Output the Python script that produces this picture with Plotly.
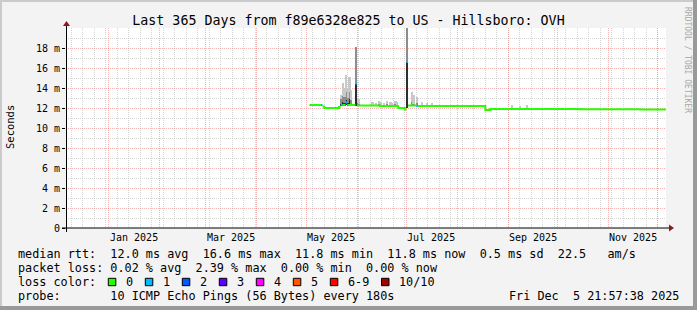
import plotly.graph_objects as go
import pandas as pd

# ---------------- data ----------------
range_start = "2024-12-05 21:57:38"
range_end = "2025-12-05 21:57:38"
data_end = "2025-12-05 21:00:00"

month_grid = ["2025-01-01", "2025-02-01", "2025-03-01", "2025-04-01", "2025-05-01", "2025-06-01",
              "2025-07-01", "2025-08-01", "2025-09-01", "2025-10-01", "2025-11-01", "2025-12-01"]
month_label_at = ["2025-01-16", "2025-03-16", "2025-05-16", "2025-07-16", "2025-09-16", "2025-11-16"]
month_labels = ["Jan 2025", "Mar 2025", "May 2025", "Jul 2025", "Sep 2025", "Nov 2025"]

y_major_ms = [0, 2, 4, 6, 8, 10, 12, 14, 16, 18]
y_major_text = ["0", "2 m", "4 m", "6 m", "8 m", "10 m", "12 m", "14 m", "16 m", "18 m"]
y_minor_ms = [1, 3, 5, 7, 9, 11, 13, 15, 17, 19]

# median rtt (ms) as step segments, each lasting until the next start; loss = lost pings of 10
med_start = ["2025-05-03", "2025-05-10", "2025-05-11", "2025-05-12", "2025-05-21", "2025-05-22",
             "2025-05-23", "2025-05-25", "2025-05-26", "2025-05-31", "2025-06-01", "2025-06-15",
             "2025-06-26", "2025-06-30", "2025-07-01", "2025-07-02", "2025-07-07", "2025-07-08",
             "2025-08-18", "2025-08-21", "2025-09-05", "2025-10-15", "2025-11-20"]
med_ms = [12.3, 12.3, 12.15, 12.0, 12.1, 12.3,
          12.3, 12.55, 12.3, 14.45, 12.25, 12.2,
          12.0, 11.85, 16.6, 12.25, 12.2, 12.2,
          11.8, 11.9, 11.9, 11.88, 11.85]
med_loss = [0, 1, 0, 0, 0, 1,
            0, 1, 0, 1, 0, 0,
            0, 0, 1, 0, 1, 0,
            0, 0, 0, 0, 0]

# smoke (ping spread, ms) per day
smoke_day = ["2025-05-22", "2025-05-23", "2025-05-24", "2025-05-25", "2025-05-26", "2025-05-27",
             "2025-05-28", "2025-05-31", "2025-06-01", "2025-06-02", "2025-06-10", "2025-06-12",
             "2025-06-14", "2025-06-15", "2025-06-17", "2025-06-19", "2025-06-21", "2025-06-22",
             "2025-06-24", "2025-06-25", "2025-07-01", "2025-07-04", "2025-07-05", "2025-07-07",
             "2025-07-10", "2025-07-13", "2025-07-16", "2025-09-03", "2025-09-08", "2025-09-12"]
smoke_min = [12.2, 12.2, 12.2, 12.3, 12.2, 12.2,
             12.2, 12.2, 12.2, 12.2, 12.2, 12.2,
             12.2, 12.2, 12.2, 12.2, 12.2, 12.2,
             12.2, 12.2, 12.0, 12.2, 12.2, 12.2,
             12.2, 12.2, 12.2, 11.9, 11.9, 11.9]
smoke_dark = [12.4, 12.6, 12.5, 12.8, 12.5, 12.9,
              12.4, 14.45, 12.2, 12.2, 12.2, 12.2,
              12.2, 12.2, 12.2, 12.2, 12.2, 12.2,
              12.2, 12.2, 16.6, 12.2, 12.2, 12.2,
              12.2, 12.2, 12.2, 11.9, 11.9, 11.9]
smoke_mid = [12.9, 13.2, 13.1, 13.6, 13.0, 13.6,
             12.8, 18.1, 12.5, 12.4, 12.3, 12.3,
             12.4, 12.3, 12.3, 12.4, 12.3, 12.3,
             12.4, 12.3, 20.5, 12.6, 12.4, 12.5,
             12.3, 12.3, 12.3, 12.0, 12.0, 12.0]
smoke_max = [13.3, 14.5, 14.0, 15.3, 14.0, 15.1,
             13.8, 18.1, 13.0, 12.9, 12.6, 12.5,
             12.7, 12.6, 12.5, 12.7, 12.6, 12.5,
             12.7, 12.6, 20.5, 13.6, 13.3, 13.1,
             12.6, 12.5, 12.5, 12.3, 12.2, 12.3]

loss_colors = ["#26ff00", "#00b8ff", "#0059ff", "#5e00ff", "#ff00ff", "#ff5500", "#ff0000", "#a10000"]
loss_names = ["0", "1", "2", "3", "4", "5", "6-9", "10/10"]

title = "Last 365 Days from f89e6328e825 to US - Hillsboro: OVH"
row_rtt = "median rtt:  12.0 ms avg  16.6 ms max  11.8 ms min  11.8 ms now  0.5 ms sd  22.5   am/s"
row_loss = "packet loss: 0.02 % avg  2.39 % max  0.00 % min  0.00 % now"
row_probe = "probe:       10 ICMP Echo Pings (56 Bytes) every 180s"
stamp = "Fri Dec  5 21:57:38 2025"

# ---------------- figure ----------------
W, H = 697, 310
PL, PR, PT, PB = 66, 666, 28, 228
MONO = "DejaVu Sans Mono"


def X(p):
    return (p - PL) / (PR - PL)


def Y(p):
    return (PB - p) / (PB - PT)


fig = go.Figure()

# smoke bars
day = pd.to_datetime(smoke_day) + pd.Timedelta(hours=12)
dayw = 86400000
bands = [
    (smoke_min, smoke_dark, "#2e2e2e"),
    (smoke_dark, smoke_mid, "#8c8c8c"),
    (smoke_mid, smoke_max, "#c8c8c8"),
]
for lo, hi, col in bands:
    fig.add_trace(go.Bar(x=day, y=[h - l for l, h in zip(lo, hi)], base=lo, width=dayw,
                         marker=dict(color=col, line=dict(width=0)), hoverinfo="skip",
                         showlegend=False))

# median lines coloured by loss
ends = med_start[1:] + [data_end]
for cls in sorted(set(med_loss)):
    xs, ys = [], []
    prev_end = None
    for s, e, v, l in zip(med_start, ends, med_ms, med_loss):
        if l != cls:
            continue
        if prev_end is not None and prev_end != s:
            xs.append(prev_end)
            ys.append(ys[-1])
            xs.append(None)
            ys.append(None)
        xs.append(s)
        ys.append(v)
        prev_end = e
    xs.append(prev_end)
    ys.append(ys[-1])
    fig.add_trace(go.Scatter(x=xs, y=ys, mode="lines", line=dict(color=loss_colors[cls], width=2, shape="hv"),
                             connectgaps=False, hoverinfo="skip", showlegend=False))

RED = "rgba(235,120,120,0.55)"
GRAY = "rgba(185,185,185,0.6)"

fig.update_layout(
    width=W, height=H,
    margin=dict(l=PL, r=W - PR, t=PT, b=H - PB),
    paper_bgcolor="#f3f3f3", plot_bgcolor="#ffffff",
    barmode="overlay", bargap=0,
    showlegend=False,
    font=dict(family=MONO, color="#000000", size=10),
    title=dict(text=title, x=0.5, xref="container", xanchor="center", y=1 - 20 / H, yref="container",
               yanchor="middle", font=dict(family=MONO, size=13.3, color="#000000")),
    xaxis=dict(type="date", range=[range_start, range_end], tickmode="array", tickvals=month_grid,
               ticktext=[""] * len(month_grid), showgrid=True, gridcolor=RED, gridwidth=1, griddash="1px,1px",
               ticks="", zeroline=False, showline=False,
               minor=dict(dtick=7 * 86400000, tick0="2024-12-09", showgrid=True, gridcolor=GRAY,
                          griddash="1px,1px", gridwidth=1, ticks="")),
    yaxis=dict(range=[0, 20], tickmode="array", tickvals=y_major_ms, ticktext=y_major_text,
               showgrid=True, gridcolor=RED, gridwidth=1, griddash="1px,1px", zeroline=False,
               ticks="outside", ticklen=3, tickcolor="#000000", showline=False,
               tickfont=dict(family=MONO, size=10, color="#000000"),
               minor=dict(tickmode="array", tickvals=y_minor_ms, showgrid=True, gridcolor=GRAY,
                          griddash="1px,1px", gridwidth=1)),
)

shapes = []
# frame shading
shapes.append(dict(type="rect", xref="paper", yref="paper", x0=X(0), x1=X(2), y0=Y(H), y1=Y(0),
                   fillcolor="#cbcbcb", line=dict(width=0), layer="below"))
shapes.append(dict(type="rect", xref="paper", yref="paper", x0=X(0), x1=X(W), y0=Y(2), y1=Y(0),
                   fillcolor="#cbcbcb", line=dict(width=0), layer="below"))
shapes.append(dict(type="rect", xref="paper", yref="paper", x0=X(W - 4), x1=X(W), y0=Y(H), y1=Y(0),
                   fillcolor="#999999", line=dict(width=0), layer="below"))
shapes.append(dict(type="rect", xref="paper", yref="paper", x0=X(0), x1=X(W), y0=Y(H), y1=Y(H - 4),
                   fillcolor="#999999", line=dict(width=0), layer="below"))
# axes with arrows
shapes.append(dict(type="line", xref="paper", yref="paper", x0=X(62), x1=X(670), y0=Y(228), y1=Y(228),
                   line=dict(color="#000000", width=1)))
shapes.append(dict(type="line", xref="paper", yref="paper", x0=X(66.5), x1=X(66.5), y0=Y(232), y1=Y(25),
                   line=dict(color="#000000", width=1)))
shapes.append(dict(type="path", xref="paper", yref="paper",
                   path=f"M {X(669)} {Y(224.5)} L {X(674)} {Y(228)} L {X(669)} {Y(231.5)} Z",
                   fillcolor="#8b1a1a", line=dict(width=0)))
shapes.append(dict(type="path", xref="paper", yref="paper",
                   path=f"M {X(63)} {Y(26)} L {X(66.5)} {Y(21)} L {X(70)} {Y(26)} Z",
                   fillcolor="#8b1a1a", line=dict(width=0)))

ann = []
for d, t in zip(month_label_at, month_labels):
    ann.append(dict(x=d, y=Y(237), xref="x", yref="paper", text=t, showarrow=False,
                    xanchor="center", yanchor="middle", font=dict(family=MONO, size=10, color="#000000")))
ann.append(dict(x=X(10), y=Y(127), xref="paper", yref="paper", text="Seconds", textangle=-90, showarrow=False,
                xanchor="center", yanchor="middle", font=dict(family=MONO, size=10.5, color="#000000")))
ann.append(dict(x=X(688), y=Y(5), xref="paper", yref="paper", text="RRDTOOL / TOBI OETIKER", textangle=90,
                showarrow=False, xanchor="center", yanchor="top", font=dict(family=MONO, size=8, color="#a8a8a8")))

LF = 11.8
for text, yy in [(row_rtt, 253.5), (row_loss, 267.8), (row_probe, 296.3)]:
    ann.append(dict(x=X(16), y=Y(yy), xref="paper", yref="paper", text=text.replace(" ", "&nbsp;"),
                    showarrow=False, xanchor="left", yanchor="middle", font=dict(family=MONO, size=LF)))
ann.append(dict(x=X(681), y=Y(296.3), xref="paper", yref="paper", text=stamp.replace(" ", "&nbsp;"),
                showarrow=False, xanchor="right", yanchor="middle", font=dict(family=MONO, size=LF)))
ann.append(dict(x=X(16), y=Y(282), xref="paper", yref="paper", text="loss&nbsp;color:",
                showarrow=False, xanchor="left", yanchor="middle", font=dict(family=MONO, size=LF)))
sx = 108.3
for i, (c, n) in enumerate(zip(loss_colors, loss_names)):
    shapes.append(dict(type="rect", xref="paper", yref="paper", x0=X(sx), x1=X(sx + 7.5), y0=Y(285.7), y1=Y(278.3),
                       fillcolor=c, line=dict(color="#000000", width=1)))
    ann.append(dict(x=X(sx + 15.5), y=Y(282), xref="paper", yref="paper", text=n,
                    showarrow=False, xanchor="left", yanchor="middle", font=dict(family=MONO, size=LF)))
    sx += 37.0 + (len(n) - 1) * 7.1

fig.update_layout(shapes=shapes, annotations=ann)
fig.write_html("out.html")
